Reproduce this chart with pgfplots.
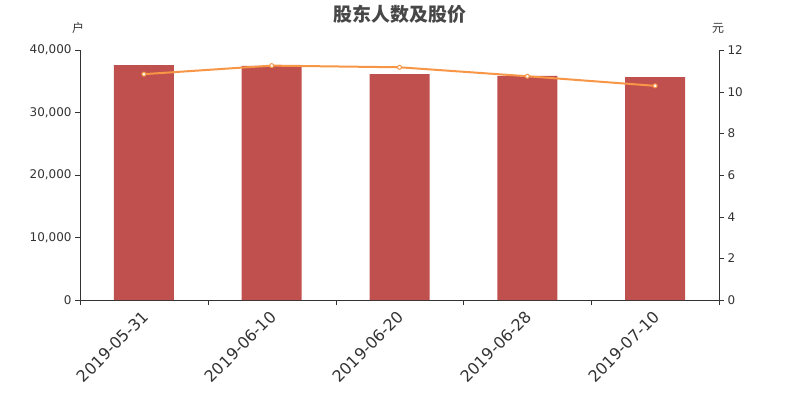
\documentclass[border=0pt]{standalone}
\usepackage{pgfplots}
\pgfplotsset{compat=1.18}
\usepackage{fontspec}
\setmainfont{DejaVu Sans}
\newfontfamily\cjk{Noto Sans CJK SC}
\newfontfamily\cjkb{Noto Sans CJK SC Bold}
\definecolor{barc}{RGB}{192,80,77}
\definecolor{linec}{RGB}{247,150,70}
\definecolor{txt}{RGB}{51,51,51}
\begin{document}
\begin{tikzpicture}[x=1bp,y=1bp]
\path[use as bounding box] (0,0) rectangle (800,400);
\node[font=\cjk\bfseries\fontsize{19}{21}\selectfont, text=txt!90] at (400,386) {股东人数及股价};
\node[font=\cjk\fontsize{12}{14}\selectfont, text=txt] at (78,372) {户};
\node[font=\cjk\fontsize{12}{14}\selectfont, text=txt] at (718,372) {元};
\begin{axis}[
  at={(80bp,100bp)}, anchor=south west,
  scale only axis, width=639bp, height=250bp,
  xmin=-0.5, xmax=4.5, ymin=0, ymax=40000,
  axis x line=bottom, axis y line=left,
  axis line style={-, color=txt},
  xtick={0,1,2,3,4},
  xticklabels={2019-05-31,2019-06-10,2019-06-20,2019-06-28,2019-07-10},
  major x tick style={draw=none},
  minor xtick={-0.5,0.5,1.5,2.5,3.5,4.5},
  minor x tick style={color=txt},
  minor tick length=5bp,
  xticklabel style={font=\fontsize{16}{18}\selectfont, text=txt, rotate=45, anchor=north east, inner sep=1bp, xshift=-4bp, yshift=0bp},
  ytick={0,10000,20000,30000,40000},
  y tick style={color=txt},
  major tick length=5bp,
  tick align=outside,
  yticklabel style={font=\fontsize{12}{14}\selectfont, text=txt},
  /pgf/number format/assume math mode=true,
  /pgf/number format/1000 sep={,},
  scaled y ticks=false,
]
\addplot[ybar, bar width=60bp, fill=barc, draw=none] coordinates {(0,37600) (1,37450) (2,36150) (3,35850) (4,35650)};
\end{axis}
\begin{axis}[
  at={(80bp,100bp)}, anchor=south west,
  scale only axis, width=639bp, height=250bp,
  xmin=-0.5, xmax=4.5, ymin=0, ymax=12,
  axis x line=none, axis y line=right,
  axis line style={-, color=txt},
  ytick={0,2,4,6,8,10,12},
  y tick style={color=txt},
  major tick length=5bp,
  tick align=outside,
  yticklabel style={font=\fontsize{12}{14}\selectfont, text=txt},
  /pgf/number format/assume math mode=true,
]
\addplot[color=linec, line width=2bp, mark=*, mark size=2bp, mark options={fill=white, draw=linec, line width=1bp}] coordinates {(0,10.84) (1,11.25) (2,11.17) (3,10.74) (4,10.28)};
\end{axis}
\end{tikzpicture}
\end{document}
